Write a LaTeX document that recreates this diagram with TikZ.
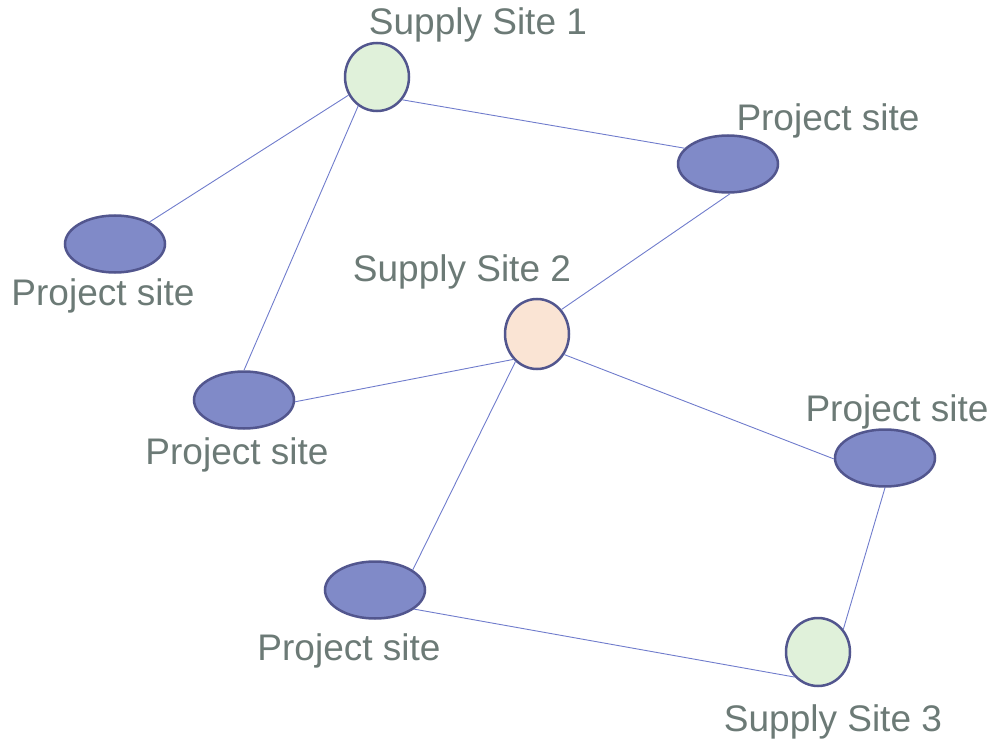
\documentclass[tikz,border=0pt]{standalone}
\usepackage{fontspec}
\setmainfont{Liberation Sans}
\usetikzlibrary{shapes.geometric}
\definecolor{labelgray}{RGB}{108,122,118}
\definecolor{edgeblue}{RGB}{112,124,204}
\definecolor{rimblue}{RGB}{82,86,142}
\definecolor{supplygreen}{RGB}{224,241,218}
\definecolor{supplypeach}{RGB}{250,228,212}
\definecolor{projectblue}{RGB}{128,138,200}
\tikzset{
  site/.style={ellipse, draw=rimblue, line width=2.5pt, inner sep=0pt},
  supply/.style={site, minimum width=64pt, minimum height=68pt},
  project/.style={site, fill=projectblue, minimum width=100pt, minimum height=57pt},
  lbl/.style={text=labelgray, anchor=base, inner sep=0pt, font=\fontsize{37}{41}\selectfont},
  link/.style={draw=edgeblue, line width=0.9pt}
}
\begin{document}
\begin{tikzpicture}[x=1pt, y=-1pt]
\useasboundingbox (0,0) rectangle (997,741);
% sites
\node[supply, fill=supplygreen] (s1) at (377,77) {};
\node[supply, fill=supplypeach, minimum height=70pt] (s2) at (537,334) {};
\node[supply, fill=supplygreen] (s3) at (818,652) {};
\node[project] (ptr) at (728,164) {};
\node[project] (pl) at (115,244) {};
\node[project] (pm) at (244,400) {};
\node[project] (pr) at (885,458) {};
\node[project] (pb) at (375,590) {};
% labels
\node[lbl] (ls1) at (478,35) {Supply Site 1};
\node[lbl] (lptr) at (828,131) {Project site};
\node[lbl] (lpl) at (103,305) {Project site};
\node[lbl] (ls2) at (462,281) {Supply Site 2};
\node[lbl] (lpm) at (237,464) {Project site};
\node[lbl] (lpr) at (897,421) {Project site};
\node[lbl] (lpb) at (349,660) {Project site};
\node[lbl] (ls3) at (833,731) {Supply Site 3};
% connections
\path[link] (s1) -- (pl);
\path[link] (s1.237) -- (pm.90);
\path[link] (s1.-42) -- (ptr.160);
\path[link] (s2.45) -- (ptr.-86);
\path[link] (s2.227) -- (pm.-2);
\path[link] (s2.232) -- (pb.28);
\path[link] (s2.-37) -- (pr.181);
\path[link] (pr.-90) -- (s3.42);
\path[link] (pb.-26) -- (s3.227);
\end{tikzpicture}
\end{document}
